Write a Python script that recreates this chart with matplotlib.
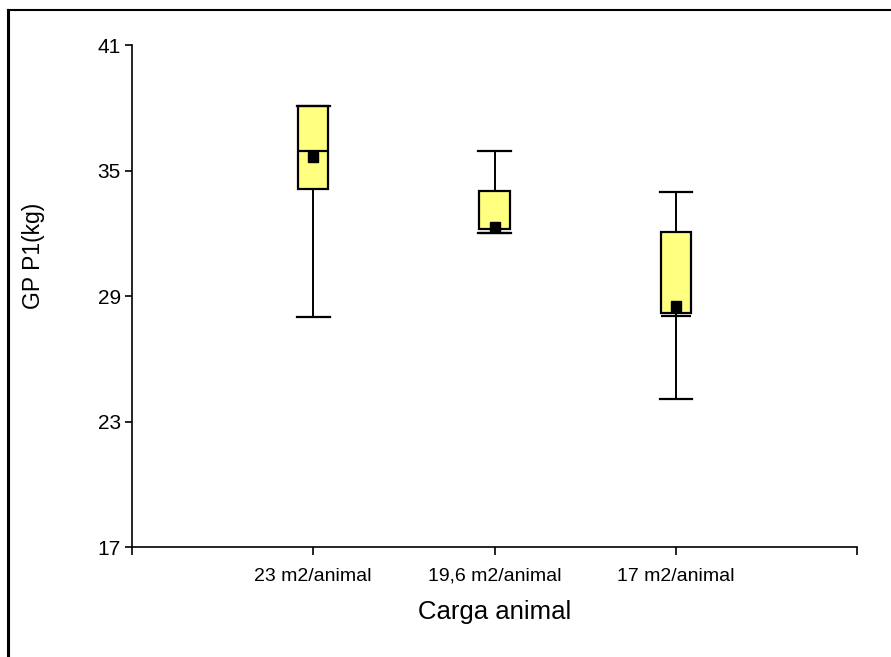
import matplotlib.pyplot as plt
from matplotlib.lines import Line2D

plt.rcParams['font.family'] = ['Liberation Sans', 'DejaVu Sans']

# datos
categorias = ['23 m2/animal', '19,6 m2/animal', '17 m2/animal']
minimos = [28.0, 32.03, 24.1]
q1 = [34.13, 32.19, 28.17]
medianas = [35.93, 32.03, 28.03]
q3 = [38.1, 34.03, 32.07]
maximos = [38.1, 35.95, 33.99]
medias = [35.66, 32.28, 28.52]

stats = []
for i in range(len(categorias)):
    stats.append({'label': categorias[i], 'whislo': minimos[i], 'q1': q1[i],
                  'med': medianas[i], 'q3': q3[i], 'whishi': maximos[i],
                  'mean': medias[i]})

fig = plt.figure(figsize=(8.91, 6.57), dpi=100)
ax = fig.add_axes([0.148, 0.1674, 0.814, 0.764])

ax.bxp(stats, positions=[1, 2, 3], widths=0.166, showmeans=True,
       patch_artist=True, showfliers=False,
       boxprops=dict(facecolor='#ffff80', edgecolor='black', linewidth=1.6),
       medianprops=dict(color='black', linewidth=1.6),
       whiskerprops=dict(color='black', linewidth=1.4),
       capprops=dict(color='black', linewidth=1.6),
       capwidths=0.18,
       meanprops=dict(marker='s', markerfacecolor='black', markeredgecolor='black',
                      markersize=7.5))

ax.set_xlim(0, 4)
ax.set_ylim(17, 41)
ax.set_yticks([17, 23, 29, 35, 41])
ax.set_xticks([0, 1, 2, 3, 4])
ax.set_xticklabels([''] + categorias + [''])
ax.spines['top'].set_visible(False)
ax.spines['right'].set_visible(False)
ax.spines['left'].set_linewidth(1.2)
ax.spines['bottom'].set_linewidth(1.2)
ax.tick_params(axis='y', length=5, width=1.2, pad=3, labelsize=15)
ax.tick_params(axis='x', length=6, width=1.2, pad=9, labelsize=14)

ax.set_ylabel('GP P1(kg)', fontsize=16.5)
ax.yaxis.set_label_coords(-0.12, 0.58)
ax.set_xlabel('Carga animal', fontsize=18.5)
ax.xaxis.set_label_coords(0.5, -0.105)

# marco exterior (solo arriba e izquierda visibles)
fig.add_artist(Line2D([0.009, 1.0], [0.985, 0.985], color='black', lw=1.5))
fig.add_artist(Line2D([0.009, 0.009], [0.0, 0.985], color='black', lw=2.2))

fig.savefig('out.png', dpi=100)
